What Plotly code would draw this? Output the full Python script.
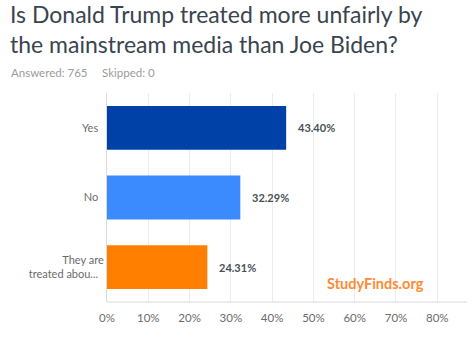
import plotly.graph_objects as go

categories = ["Yes", "No", "They are<br>treated abou..."]
values = [43.40, 32.29, 24.31]
colors = ["#0041a8", "#3b8bff", "#ff8000"]
tick_vals = [0, 10, 20, 30, 40, 50, 60, 70, 80]
tick_text = ["0%", "10%", "20%", "30%", "40%", "50%", "60%", "70%", "80%"]

W, H = 475, 337
L, R, T, B = 107, 8, 93, 35

def px(xp):
    return (xp - L) / (W - L - R)

def py(yp):
    return (H - B - yp) / (H - T - B)

fig = go.Figure()
fig.add_trace(go.Bar(
    y=categories, x=values, orientation="h",
    marker=dict(color=colors, line=dict(width=0)),
    width=0.63, hoverinfo="skip",
))

for c, v in zip(categories, values):
    fig.add_annotation(x=v, y=c, xref="x", yref="y", text=f"<b>{v:.2f}%</b>",
                       showarrow=False, xanchor="left", xshift=10,
                       font=dict(family="Lato", size=11, color="#4a4f55"))

fig.add_annotation(x=px(8), y=py(-2), xref="paper", yref="paper", xanchor="left", yanchor="top",
                   text="Is Donald Trump treated more unfairly by<br>the mainstream media than Joe Biden?",
                   showarrow=False, align="left",
                   font=dict(family="Lato", size=23, color="#3a444e"))
fig.add_annotation(x=px(9), y=py(72), xref="paper", yref="paper", xanchor="left", yanchor="middle",
                   text="Answered: 765", showarrow=False, align="left",
                   font=dict(family="Lato", size=11.5, color="#9b9b9b"))
fig.add_annotation(x=px(100), y=py(72), xref="paper", yref="paper", xanchor="left", yanchor="middle",
                   text="Skipped: 0", showarrow=False, align="left",
                   font=dict(family="Lato", size=11.5, color="#9b9b9b"))
fig.add_annotation(x=px(325), y=py(283), xref="paper", yref="paper", xanchor="left", yanchor="middle",
                   text="<b>StudyFinds.org</b>", showarrow=False,
                   font=dict(family="Lato", size=14.5, color="#ff8a33"))

fig.update_layout(
    width=W, height=H,
    margin=dict(l=L, r=R, t=T, b=B),
    paper_bgcolor="white", plot_bgcolor="white",
    showlegend=False,
    xaxis=dict(range=[0, 87.2], tickvals=tick_vals, ticktext=tick_text,
               showgrid=True, gridcolor="#ececec", gridwidth=1,
               zeroline=False, showline=False, ticks="",
               ticklabelstandoff=7,
               tickfont=dict(family="Lato", size=11.5, color="#6b6b6b")),
    yaxis=dict(autorange="reversed", showgrid=False, zeroline=False,
               showline=True, linecolor="#d9d9d9", linewidth=1, ticks="",
               ticksuffix="  ",
               tickfont=dict(family="Lato", size=11, color="#6b6b6b")),
)
fig.add_shape(type="line", xref="paper", yref="paper", x0=0, x1=1, y0=0, y1=0,
              line=dict(color="#d9d9d9", width=1))

fig.write_html("out.html")
